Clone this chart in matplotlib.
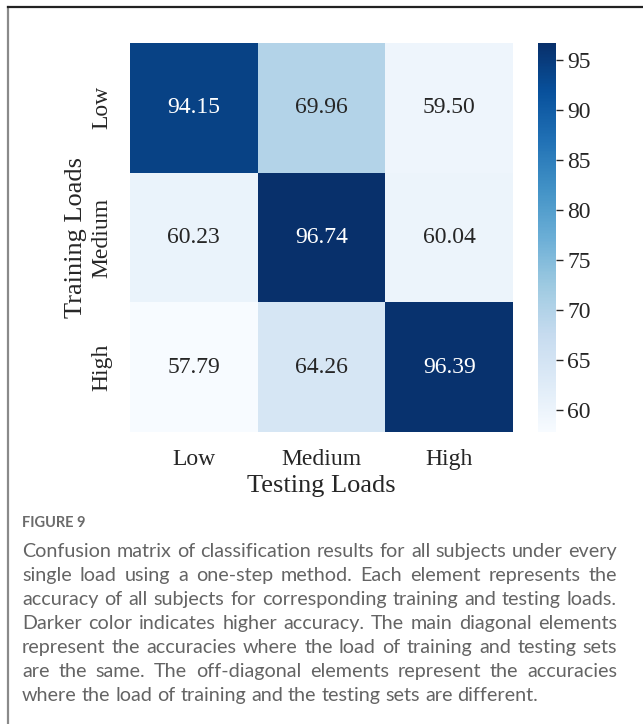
import numpy as np
import matplotlib
matplotlib.use("Agg")
import matplotlib.pyplot as plt
from matplotlib.lines import Line2D

# Accuracy (%) per training load (rows) and testing load (columns)
train_loads = ["Low", "Medium", "High"]
test_loads = ["Low", "Medium", "High"]
acc_low = [94.15, 69.96, 59.50]
acc_medium = [60.23, 96.74, 60.04]
acc_high = [57.79, 64.26, 96.39]
cbar_ticks = [60, 65, 70, 75, 80, 85, 90, 95]

caption_title = "FIGURE 9"
caption_lines = [
    "Confusion matrix of classification results for all subjects under every",
    "single load using a one-step method. Each element represents the",
    "accuracy of all subjects for corresponding training and testing loads.",
    "Darker color indicates higher accuracy. The main diagonal elements",
    "represent the accuracies where the load of training and testing sets",
    "are the same. The off-diagonal elements represent the accuracies",
    "where the load of training and the testing sets are different.",
]

matrix = np.array([acc_low, acc_medium, acc_high])

W, H = 643, 724
fig = plt.figure(figsize=(W / 100, H / 100), dpi=100)
serif = "Liberation Serif"
ink = "#262626"

def fx(px):
    return px / W

def fy(py):
    return 1 - py / H

# Panel frame (top and left edges)
fig.add_artist(Line2D([fx(8), fx(8)], [0, fy(7)], color="#8a8a8a", lw=1.6))
fig.add_artist(Line2D([fx(8), 1.0], [fy(7), fy(7)], color="#222222", lw=1.6))

ax = fig.add_axes([fx(130), fy(432), fx(513) - fx(130), fy(43) - fy(432)])
cax = fig.add_axes([fx(538), fy(432), fx(556) - fx(538), fy(43) - fy(432)])

vmin, vmax = matrix.min(), matrix.max()
cmap = plt.get_cmap("Blues")
norm = matplotlib.colors.Normalize(vmin=vmin, vmax=vmax)
mesh = ax.pcolormesh(matrix, cmap=cmap, norm=norm)
ax.set_xlim(0, 3)
ax.set_ylim(3, 0)
for s in ax.spines.values():
    s.set_visible(False)

for i in range(3):
    for j in range(3):
        v = matrix[i, j]
        r, g, b, _ = cmap(norm(v))
        lum = 0.2126 * r + 0.7152 * g + 0.0722 * b
        color = "white" if lum < 0.408 else ink
        ax.text(j + 0.5, i + 0.5, f"{v:.2f}", ha="center", va="center",
                fontsize=17, family=serif, color=color)

ax.set_xticks(np.arange(3) + 0.5)
ax.set_xticklabels(test_loads, fontsize=17, family=serif, color=ink)
ax.set_yticks(np.arange(3) + 0.5)
ax.set_yticklabels(train_loads, fontsize=17, family=serif, color=ink,
                   rotation=90, va="center")
ax.tick_params(axis="x", length=0, pad=12)
ax.tick_params(axis="y", length=0, pad=13)
ax.set_xlabel("Testing Loads", fontsize=19, family=serif, color=ink, labelpad=4)
ax.set_ylabel("Training Loads", fontsize=19, family=serif, color=ink, labelpad=3)

cb = fig.colorbar(mesh, cax=cax)
cb.outline.set_visible(False)
cb.set_ticks(cbar_ticks)
cb.ax.tick_params(labelsize=17, length=5, width=1, pad=3, colors=ink)
for t in cb.ax.get_yticklabels():
    t.set_family(serif)

# Caption
fig.text(fx(22), fy(527), caption_title, fontsize=10.5, family="Lato", weight="bold",
         color="#6b6b6b", ha="left", va="baseline")

renderer = fig.canvas.get_renderer()
left_px, right_px = 22, 617
line_h = 24
first_base = 557
cap_color = "#646464"

def width_px(s, size):
    t = fig.text(0, 0, s, fontsize=size, family="Lato", weight="normal")
    w = t.get_window_extent(renderer).width
    t.remove()
    return w

# pick a size whose longest line fits the text block
size = 16.0
while max(width_px(ln, size) for ln in caption_lines) > (right_px - left_px) - 4:
    size -= 0.1

cap_font = dict(fontsize=size, family="Lato", weight="normal", color=cap_color)
space_w = width_px("a b", size) - width_px("ab", size)

for li, ln in enumerate(caption_lines):
    base = first_base + li * line_h
    words = ln.split()
    ws = [width_px(w, size) for w in words]
    total = sum(ws)
    if li < len(caption_lines) - 1 and len(words) > 1:
        gap = (right_px - left_px - total) / (len(words) - 1)
    else:
        gap = space_w
    x = left_px
    for w, ww in zip(words, ws):
        fig.text(fx(x), fy(base), w, ha="left", va="baseline", **cap_font)
        x += ww + gap

fig.savefig("out.png", dpi=100, facecolor="white")
